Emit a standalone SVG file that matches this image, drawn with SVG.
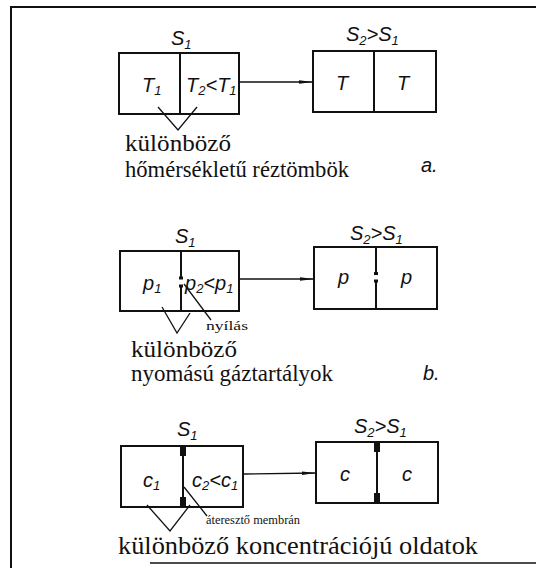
<svg xmlns="http://www.w3.org/2000/svg" width="536" height="572" viewBox="0 0 536 572">
<defs>
<style>
.box{fill:none;stroke:#111;stroke-width:2}
.ln{fill:none;stroke:#111;stroke-width:1.3}
.sym{font-family:"Liberation Sans","DejaVu Sans",sans-serif;font-style:italic;font-size:20px;fill:#111}
.sub{font-size:13px}
.lab{font-family:'Liberation Serif','DejaVu Serif','Noto Serif',serif;font-size:23px;fill:#111}
.big{font-family:'Liberation Serif','DejaVu Serif','Noto Serif',serif;font-size:26px;fill:#111}
.sm{font-family:'Liberation Serif','DejaVu Serif','Noto Serif',serif;font-size:13px;fill:#111}
.blk{fill:#111}
</style>
<marker id="arr" viewBox="0 0 14 6" refX="14" refY="3" markerWidth="14" markerHeight="6" markerUnits="userSpaceOnUse" orient="auto">
<path d="M0,1.2 L14,3 L0,4.8 Z" fill="#111"/>
</marker>
</defs>
<rect width="536" height="572" fill="#fff"/>
<g id="frame" fill="none" stroke="#111" stroke-width="2">
<path d="M11,568 L11,7 L536,7"/>
<path d="M150,563 L536,563" stroke-width="1.6"/>
</g>

<g id="a-before">
<text class="sym" x="171" y="45">S<tspan class="sub" dy="4">1</tspan></text>
<rect class="box" x="119" y="53" width="120" height="61"/>
<line class="box" x1="180" y1="53" x2="180" y2="114"/>
<text class="sym" x="142" y="92">T<tspan class="sub" dy="3">1</tspan></text>
<text class="sym" x="186" y="92">T<tspan class="sub" dy="3">2</tspan><tspan dy="-3">&lt;T</tspan><tspan class="sub" dy="3">1</tspan></text>
</g>
<g id="a-after">
<text class="sym" x="346" y="41">S<tspan class="sub" dy="4">2</tspan><tspan dy="-4">&gt;S</tspan><tspan class="sub" dy="4">1</tspan></text>
<rect class="box" x="313" y="51" width="123" height="61"/>
<line class="box" x1="374" y1="51" x2="374" y2="112"/>
<text class="sym" x="336" y="90">T</text>
<text class="sym" x="397" y="90">T</text>
</g>
<g id="a-label">
<text class="lab" x="125" y="151" textLength="106" lengthAdjust="spacingAndGlyphs">különböző</text>
<text class="lab" x="125" y="177" textLength="224" lengthAdjust="spacingAndGlyphs">hőmérsékletű réztömbök</text>
<text class="sym" x="421" y="172">a.</text>
</g>

<g id="b-before">
<text class="sym" x="175" y="243">S<tspan class="sub" dy="4">1</tspan></text>
<rect class="box" x="120" y="251" width="119" height="60"/>
<line class="box" x1="181" y1="251" x2="181" y2="278"/>
<line class="box" x1="181" y1="285" x2="181" y2="311"/>
<rect class="blk" x="179" y="276.5" width="4" height="3"/>
<rect class="blk" x="179" y="284.5" width="4" height="3"/>
<text class="sym" x="143" y="290">p<tspan class="sub" dy="3">1</tspan></text>
<text class="sym" x="185" y="290">p<tspan class="sub" dy="3">2</tspan><tspan dy="-3">&lt;p</tspan><tspan class="sub" dy="3">1</tspan></text>
</g>
<g id="b-after">
<text class="sym" x="350" y="240">S<tspan class="sub" dy="4">2</tspan><tspan dy="-4">&gt;S</tspan><tspan class="sub" dy="4">1</tspan></text>
<rect class="box" x="314" y="247" width="123" height="62"/>
<line class="box" x1="376" y1="247" x2="376" y2="274"/>
<line class="box" x1="376" y1="280" x2="376" y2="309"/>
<rect class="blk" x="374" y="272" width="4" height="3"/>
<rect class="blk" x="374" y="279.5" width="4" height="3"/>
<text class="sym" x="338" y="284">p</text>
<text class="sym" x="401" y="284">p</text>
</g>
<g id="b-label">
<text class="sm" x="206" y="330" textLength="42" lengthAdjust="spacingAndGlyphs">nyílás</text>
<text class="lab" x="131" y="357" textLength="106" lengthAdjust="spacingAndGlyphs">különböző</text>
<text class="lab" x="131" y="381" textLength="202" lengthAdjust="spacingAndGlyphs">nyomású gáztartályok</text>
<text class="sym" x="423" y="380">b.</text>
</g>

<g id="c-before">
<text class="sym" x="177" y="436">S<tspan class="sub" dy="4">1</tspan></text>
<rect class="box" x="121" y="446" width="122" height="61"/>
<line class="box" x1="183" y1="446" x2="183" y2="507" stroke-width="1.5"/>
<rect class="blk" x="180" y="446" width="6" height="10"/>
<rect class="blk" x="180" y="497" width="6" height="10"/>
<text class="sym" x="143" y="487">c<tspan class="sub" dy="3">1</tspan></text>
<text class="sym" x="192" y="487">c<tspan class="sub" dy="3">2</tspan><tspan dy="-3">&lt;c</tspan><tspan class="sub" dy="3">1</tspan></text>
</g>
<g id="c-after">
<text class="sym" x="354" y="433">S<tspan class="sub" dy="4">2</tspan><tspan dy="-4">&gt;S</tspan><tspan class="sub" dy="4">1</tspan></text>
<rect class="box" x="316" y="442" width="122" height="61"/>
<line class="box" x1="377" y1="442" x2="377" y2="503" stroke-width="1.5"/>
<rect class="blk" x="374" y="442" width="6" height="10"/>
<rect class="blk" x="374" y="493" width="6" height="10"/>
<text class="sym" x="340" y="481">c</text>
<text class="sym" x="402" y="481">c</text>
</g>
<g id="c-label">
<text class="sm" x="206" y="524" textLength="94" lengthAdjust="spacingAndGlyphs">áteresztő membrán</text>
<text class="big" x="118" y="554" textLength="360" lengthAdjust="spacingAndGlyphs">különböző koncentrációjú oldatok</text>
</g>

<g id="connectors">
<line class="ln" x1="240" y1="82" x2="313" y2="82" marker-end="url(#arr)"/>
<line class="ln" x1="240" y1="279" x2="314" y2="279" marker-end="url(#arr)"/>
<line class="ln" x1="244" y1="474" x2="316" y2="473" marker-end="url(#arr)"/>
<path class="ln" d="M158,107 L178,130 L197,107"/>
<path class="ln" d="M162,307 L177,333 L190,313"/>
<line class="ln" x1="184" y1="284" x2="211" y2="320"/>
<path class="ln" d="M147,505 L170,531 L190,505"/>
<line class="ln" x1="184" y1="487" x2="207" y2="516"/>
</g>
</svg>
